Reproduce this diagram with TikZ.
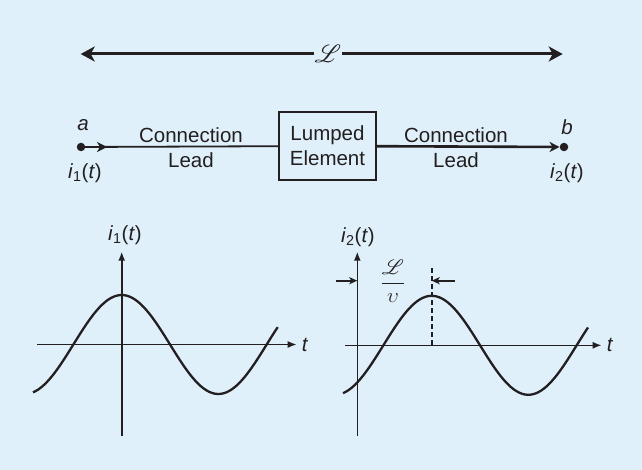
\documentclass[tikz,border=0pt]{standalone}
\usepackage{tikz}
\usepackage{xcolor}
\usepackage{mathrsfs}
\usepackage{fontspec}
\setmainfont{Liberation Sans}
\usetikzlibrary{arrows.meta,positioning,calc}
\definecolor{bgcolor}{RGB}{223,240,250}
\definecolor{inkcolor}{RGB}{35,31,32}

\begin{document}
\begin{tikzpicture}[
    x=1pt, y=-1pt,
    font=\fontsize{20.5}{25}\selectfont, color=inkcolor,
    box/.style={rectangle, draw, line width=2.2pt, minimum width=97pt, minimum height=68pt, inner sep=0pt, align=center},
    dot/.style={circle, fill, minimum size=8.5pt, inner sep=0pt},
    label/.style={inner sep=0pt, align=center},
    span/.style={-{Stealth[length=14pt,width=15pt,inset=4pt]}, line width=3pt},
    wire/.style={line width=2pt},
    wirearrow/.style={-{Stealth[length=10pt,width=10pt,inset=3pt]}},
    axis/.style={-{Latex[length=9pt,width=7pt]}, line width=1.6pt},
    curve/.style={line width=2.3pt, smooth},
    marker/.style={-{Stealth[length=8pt,width=7pt,inset=2pt]}, line width=1.6pt}
]

% Background
\fill[bgcolor] (0,0) rectangle (642,470);

% Length of the whole line
\node[label, fill=bgcolor, minimum width=28pt, font=\fontsize{24}{28}\selectfont] (span) at (328,54) {$\mathscr{L}$};
\coordinate (spanL) at (80.7,54);
\coordinate (spanR) at (562.7,54);
\draw[span] (span) -- (spanL);
\draw[span] (span) -- (spanR);

% Circuit
\node[dot] (a) at (81,147) {};
\node[dot] (b) at (564,147) {};
\node[box] (lump) at (327.5,146) {Lumped\\Element};
\draw[wire, line width=1.8pt] (a) -- (lump);
\draw[wire, wirearrow, line width=1.8pt] (a) -- ++(26,0);
\draw[wire, wirearrow, line width=2.6pt] (lump) -- (b);

% Labels of the circuit
\node[label] (alab) at (83,125) {\textit{a}};
\node[label] (blab) at (567,127) {\textit{b}};
\node[label] (i1lab) at (85,173) {\textit{i}\textsubscript{1}(\textit{t})};
\node[label] (i2lab) at (567,173) {\textit{i}\textsubscript{2}(\textit{t})};
\node[label] (leadL) at (191,148) {Connection\\Lead};
\node[label] (leadR) at (456,148) {Connection\\Lead};

% Current at a
\coordinate (y1bot) at (121.7,436);
\coordinate (y1top) at (121.7,251.7);
\coordinate (x1left) at (37,344.5);
\coordinate (x1right) at (296.7,344.5);
\draw[axis] (y1bot) -- (y1top);
\draw[axis] (x1left) -- (x1right);
\node[label] (y1lab) at (125,235) {\textit{i}\textsubscript{1}(\textit{t})};
\node[label, right=5pt of x1right] (t1lab) {\textit{t}};
\draw[curve] plot[domain=33:277.7, samples=90] (\x, {344.5-49.5*cos(1.8624*(\x-121.7))});

% Current at b
\coordinate (y2bot) at (357.3,436);
\coordinate (y2top) at (357.3,251.7);
\coordinate (x2left) at (345,345.3);
\coordinate (x2right) at (601.7,345.3);
\draw[axis] (y2bot) -- (y2top);
\draw[axis] (x2left) -- (x2right);
\node[label] (y2lab) at (358,237) {\textit{i}\textsubscript{2}(\textit{t})};
\node[label, right=5pt of x2right] (t2lab) {\textit{t}};
\draw[curve] plot[domain=343:588, samples=90] (\x, {345.3-49.5*cos(1.8624*(\x-431.7))});

% Delay
\coordinate (peak) at (431.7,268);
\coordinate (peakbase) at (431.7,345.3);
\draw[line width=2pt, dash pattern=on 5pt off 3pt] (peak) -- (peakbase);
\coordinate (delayL) at (336,280.7);
\coordinate (delayLtip) at (357.3,280.7);
\coordinate (delayR) at (455,280.7);
\coordinate (delayRtip) at (431.7,280.7);
\draw[marker] (delayL) -- (delayLtip);
\draw[marker] (delayR) -- (delayRtip);
\node[label, font=\fontsize{22}{26}\selectfont] (delay) at (393,281) {$\displaystyle\frac{\mathscr{L}}{\upsilon}$};

\end{tikzpicture}
\end{document}
